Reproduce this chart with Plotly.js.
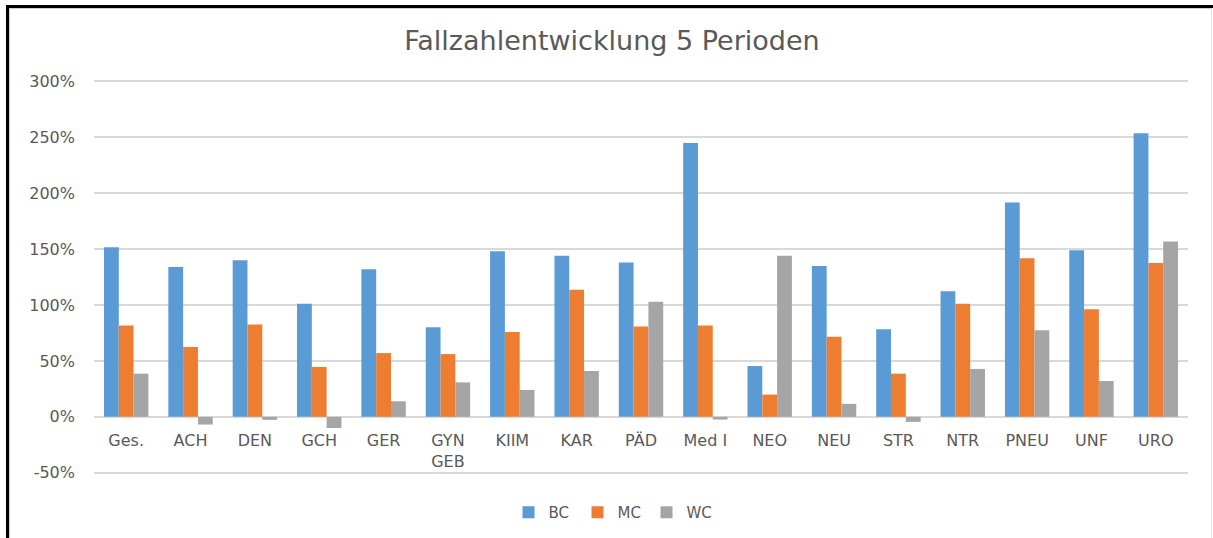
<!DOCTYPE html>
<html>
<head>
<meta charset="utf-8">
<script src="https://cdn.plot.ly/plotly-3.0.1.min.js"></script>
<style>
  html, body { margin: 0; padding: 0; background: #ffffff; }
  #chart { width: 1213px; height: 538px; }
  #frame {
    position: absolute; left: 6px; top: 5px; width: 1207px; height: 533px;
    border-left: 3px solid #000; border-top: 3px solid #000;
    box-sizing: border-box; pointer-events: none;
  }
  #frame2 {
    position: absolute; left: 9px; top: 8px; width: 1203px; height: 530px;
    border-left: 1px solid #cfcfcf; border-top: 1px solid #cfcfcf; border-right: 1px solid #e6e6e6;
    box-sizing: border-box; pointer-events: none;
  }
</style>
</head>
<body>
<div id="chart"></div>
<div id="frame"></div>
<div id="frame2"></div>
<script>
const categories = ["Ges.", "ACH", "DEN", "GCH", "GER", "GYN<br>GEB", "KIIM", "KAR", "PÄD", "Med I", "NEO", "NEU", "STR", "NTR", "PNEU", "UNF", "URO"];
const bcValues = [1.515, 1.34, 1.40, 1.01, 1.32, 0.80, 1.48, 1.44, 1.38, 2.447, 0.454, 1.348, 0.784, 1.123, 1.916, 1.49, 2.534];
const mcValues = [0.816, 0.624, 0.825, 0.446, 0.57, 0.561, 0.758, 1.137, 0.808, 0.816, 0.199, 0.716, 0.386, 1.01, 1.417, 0.962, 1.375];
const wcValues = [0.386, -0.069, -0.027, -0.10, 0.139, 0.308, 0.24, 0.41, 1.028, -0.024, 1.44, 0.116, -0.045, 0.428, 0.775, 0.32, 1.568];
const seriesNames = ["BC", "MC", "WC"];
const seriesColors = ["#5B9BD5", "#ED7D31", "#A5A5A5"];
const yTickValues = [-0.5, 0, 0.5, 1.0, 1.5, 2.0, 2.5, 3.0];
const yTickLabels = ["-50%", "0%", "50%", "100%", "150%", "200%", "250%", "300%"];

const font = "'DejaVu Sans', 'Open Sans', sans-serif";
const textColor = "#595959";

const yMin = -0.52, yMax = 3.02;

const data = [bcValues, mcValues, wcValues].map((vals, i) => ({
  type: "bar",
  x: categories,
  y: vals,
  name: seriesNames[i],
  marker: { color: seriesColors[i], line: { width: 0 } },
  hoverinfo: "x+y+name"
}));

const layout = {
  width: 1213,
  height: 538,
  paper_bgcolor: "rgba(0,0,0,0)",
  plot_bgcolor: "#ffffff",
  margin: { l: 94, r: 25, t: 79, b: 63, autoexpand: false },
  barmode: "group",
  bargap: 0.31,
  bargroupgap: 0,
  title: {
    text: "Fallzahlentwicklung 5 Perioden",
    x: 0.5045, xanchor: "center", xref: "container",
    y: 0.925, yanchor: "middle", yref: "container",
    font: { family: font, size: 27, color: textColor }
  },
  xaxis: {
    type: "category",
    anchor: "free",
    position: (0 - yMin) / (yMax - yMin),
    showline: false,
    showgrid: false,
    zeroline: false,
    ticks: "",
    tickangle: 0,
    tickfont: { family: font, size: 16, color: textColor },
    ticklabelstandoff: 12,
    automargin: false
  },
  yaxis: {
    range: [yMin, yMax],
    tickmode: "array",
    tickvals: yTickValues,
    ticktext: yTickLabels,
    showgrid: true,
    gridcolor: "#D9D9D9",
    gridwidth: 1.5,
    zeroline: true,
    zerolinecolor: "#D9D9D9",
    zerolinewidth: 1.5,
    showline: false,
    ticks: "",
    ticklabelstandoff: 18,
    tickfont: { family: font, size: 16, color: textColor },
    automargin: false
  },
  legend: {
    orientation: "h",
    x: 0.4735, xanchor: "center",
    y: -0.095, yanchor: "middle",
    font: { family: font, size: 15, color: textColor },
    entrywidth: 24,
    entrywidthmode: "pixels",
    itemwidth: 30,
    bgcolor: "rgba(0,0,0,0)"
  },
  showlegend: true
};

Plotly.newPlot("chart", data, layout, { displayModeBar: false, staticPlot: true });
</script>
</body>
</html>
